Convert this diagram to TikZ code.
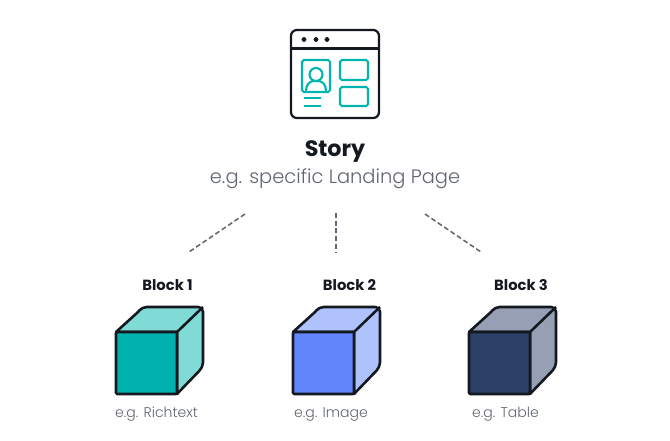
\documentclass[tikz,border=0pt]{standalone}
\usepackage{fontspec}
\setmainfont{Poppins}
\newfontfamily\lightfont{Poppins Light}
\usepackage{xcolor}
\definecolor{inkdark}{HTML}{14181F}
\definecolor{inkgrey}{HTML}{60666F}
\definecolor{tealline}{HTML}{00B5B0}
\definecolor{tealfront}{HTML}{00B2AE}
\definecolor{tealside}{HTML}{80DAD6}
\definecolor{bluefront}{HTML}{6285FB}
\definecolor{blueside}{HTML}{B0C2FD}
\definecolor{navyfront}{HTML}{2D4068}
\definecolor{navyside}{HTML}{969FB3}
\tikzset{
	title/.style={text=inkdark,font=\bfseries\fontsize{19}{20}\selectfont,inner sep=0pt},
	subtitle/.style={text=inkgrey,font=\lightfont\fontsize{16.6}{18}\selectfont,inner sep=0pt},
	blocklabel/.style={text=inkdark,font=\bfseries\fontsize{12.6}{14}\selectfont,inner sep=0pt},
	blocknote/.style={text=inkgrey,font=\lightfont\fontsize{12}{14}\selectfont,inner sep=0pt},
	link/.style={draw=inkgrey,line width=1.3pt,dash pattern=on 4.2pt off 2.4pt},
	cubeline/.style={draw=inkdark,line width=2.2pt,line join=round},
	iconline/.style={draw=inkdark,line width=1.9pt},
	tealicon/.style={draw=tealline,line width=1.8pt,rounded corners=1.5pt}
}
\begin{document}
\begin{tikzpicture}[x=0.03cm,y=-0.03cm]
	\useasboundingbox (0,0) rectangle (670,440);
	% window
	\draw [iconline,rounded corners=5pt] (291,30) rectangle (379,118);
	\draw [iconline] (291,48.5) -- (379,48.5);
	\filldraw [inkdark]
			(304,39.5) circle (1.8pt)
			(316,39.5) circle (1.8pt)
			(327,39.5) circle (1.8pt);
	\draw [tealicon] (302,60) rectangle (330,92);
	\draw [tealicon] (340,60) rectangle (368,80);
	\draw [tealicon] (340,87) rectangle (368,106);
	\draw [tealicon] (316,74.5) circle (6.5);
	\draw [tealicon] (306,91) .. controls (306,84) and (310,81) .. (316,81) .. controls (322,81) and (326,84) .. (326,91);
	\draw [tealicon] (304,98) -- (321,98);
	\draw [tealicon] (304,106) -- (321,106);
	% text
	\node [title] (story) at (335,152) {Story};
	\node [subtitle] (example) at (335,179) {e.g. specific Landing Page};
	% links
	\coordinate (a1) at (245,214);
	\coordinate (a2) at (189,252);
	\coordinate (b1) at (336,213);
	\coordinate (b2) at (336,252);
	\coordinate (c1) at (425,214);
	\coordinate (c2) at (481,252);
	\draw [link] (a1) -- (a2);
	\draw [link] (b1) -- (b2);
	\draw [link] (c1) -- (c2);
	% blocks
	\foreach \name/\px/\lx/\nx/\front/\side/\note in {1/116/167.5/156.5/tealfront/tealside/Richtext,2/293/349.5/331/bluefront/blueside/Image,3/469/521/505.5/navyfront/navyside/Table}{
		\node [blocklabel] (label\name) at (\lx,285) {Block \name};
		\node [blocknote] (note\name) at (\nx,414) {e.g. \note};
		\draw [cubeline,fill=\side] (\px,332) -- (\px+22,312) [rounded corners=4pt] -- (\px+26,307) -- (\px+87,307) -- (\px+87,367) [sharp corners] -- (\px+61,394) -- (\px+61,332) -- cycle;
		\draw [cubeline] (\px+61,332) -- (\px+87,307);
		\draw [cubeline,fill=\front,rounded corners=1pt] (\px,332) rectangle (\px+61,394);
	}
\end{tikzpicture}
\end{document}
